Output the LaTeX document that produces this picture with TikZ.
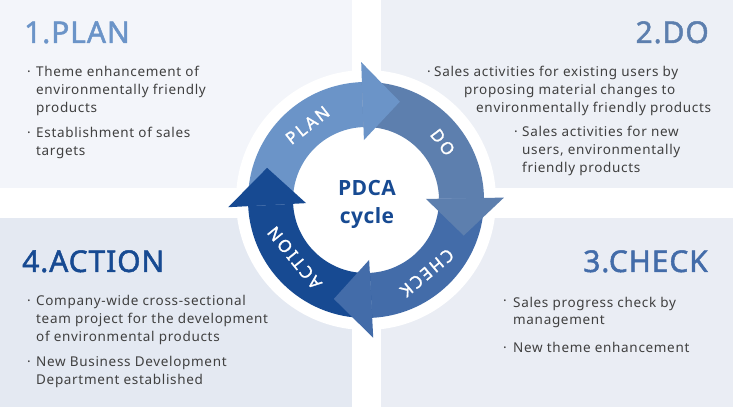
\documentclass[tikz,border=0pt]{standalone}
\usepackage{fontspec}
\setmainfont{Noto Sans}
\newfontfamily\bodyfont[LetterSpace=5]{Noto Sans}
\newfontfamily\titlefont[LetterSpace=3,FakeBold=1.6]{Noto Sans}
\newfontfamily\ringfont[LetterSpace=14,FakeBold=1.4]{Noto Sans}
\newfontfamily\centerfont[LetterSpace=2]{Open Sans}
\usepackage{xcolor}
\usetikzlibrary{calc}
\definecolor{plancolor}{HTML}{6B94C8}
\definecolor{docolor}{HTML}{5D7FAE}
\definecolor{checkcolor}{HTML}{436CA9}
\definecolor{actcolor}{HTML}{174A92}
\definecolor{paneltl}{HTML}{F3F5FA}
\definecolor{paneltr}{HTML}{EDF0F6}
\definecolor{panelbl}{HTML}{E4E9F2}
\definecolor{panelbr}{HTML}{EAEDF4}
\definecolor{bodytext}{HTML}{404040}
% ring piece and head, drawn round (0,0) of the shifted scope
\newcommand{\ringseg}[3]{\fill[#1] (#2:118) arc[start angle=#2,end angle=#3,radius=118]
  -- (#3:73) arc[start angle=#3,end angle=#2,radius=73] -- cycle;}
\newcommand{\ringhead}[2]{\fill[#1] (#2:60) -- (#2:138) -- ({#2-21}:104) -- cycle;}

\begin{document}
\begin{tikzpicture}[x=1pt,y=1pt,
  title/.style={font=\titlefont\fontsize{30}{32}\selectfont,inner sep=0pt},
  item/.style={font=\bodyfont\fontsize{13.5}{18}\selectfont,text=bodytext,
               align=left,inner sep=0pt,anchor=base west},
  bul/.style={item},
  ringlabel/.style={text=white,font=\ringfont\fontsize{17}{17}\selectfont,inner sep=0pt},
  centerlabel/.style={text=actcolor,font=\centerfont\bfseries\fontsize{21}{28}\selectfont,
                      align=center,inner sep=0pt}
]
\fill[white] (0,0) rectangle (733,407);
\useasboundingbox (0,0) rectangle (733,407);

% Four panels
\fill[paneltl] (0,219) rectangle (352,407);
\fill[paneltr] (381,219) rectangle (733,407);
\fill[panelbl] (0,0) rectangle (352,189);
\fill[panelbr] (381,0) rectangle (733,189);

% Cycle
\coordinate (c) at (366,207);
\fill[white] (c) circle[radius=130];
\begin{scope}[shift={(c)}]
  \ringseg{plancolor}{183}{92}
  \ringseg{docolor}{92}{1}
  \ringseg{checkcolor}{1}{-87}
  \ringseg{actcolor}{-87}{-177}
  \ringhead{plancolor}{92}
  \ringhead{docolor}{1}
  \ringhead{checkcolor}{-87}
  \ringhead{actcolor}{183}
  \node[ringlabel,rotate=38] (plan) at (128:95) {PLAN};
  \node[ringlabel,rotate=-53] (do) at (37:96) {DO};
  \node[ringlabel,rotate=-140] (check) at (-50:95) {CHECK};
  \node[ringlabel,rotate=129] (action) at (-141:92) {ACTION};
\end{scope}
\node[centerlabel] (pdca) at (367,203) {PDCA\\cycle};

% Titles
\node[title,text=plancolor,anchor=base west] (t1) at (24,364) {1.PLAN};
\node[title,text=docolor,anchor=base east] (t2) at (709,364) {2.DO};
\node[title,text=checkcolor,anchor=base east] (t3) at (708,135) {3.CHECK};
\node[title,text=actcolor,anchor=base west] (t4) at (22,135) {4.ACTION};

% 1.PLAN (multi-line nodes sit on their last line)
\node[bul] (b1a) at (27,330) {·};
\node[item] (p1a) at (36,294) {Theme enhancement of\\environmentally friendly\\products};
\node[bul] (b1b) at (27,269) {·};
\node[item] (p1b) at (36,251) {Establishment of sales\\targets};

% 2.DO
\node[bul] (b2a) at (427,330) {·};
\node[item] (d1) at (434,330) {Sales activities for existing users by};
\node[item] (d2) at (464,312) {proposing material changes to};
\node[item] (d3) at (476,294) {environmentally friendly products};
\node[bul] (b2b) at (514,270) {·};
\node[item] (d4) at (522,234) {Sales activities for new\\users, environmentally\\friendly products};

% 3.CHECK
\node[bul] (b3a) at (503,101) {·};
\node[item] (c1) at (513,82) {Sales progress check by\\management};
\node[bul] (b3b) at (503,55) {·};
\node[item] (c2) at (513,55) {New theme enhancement};

% 4.ACTION
\node[bul] (b4a) at (27,102) {·};
\node[item] (a1) at (36,66) {Company-wide cross-sectional\\team project for the development\\of environmental products};
\node[bul] (b4b) at (27,41) {·};
\node[item] (a2) at (36,23) {New Business Development\\Department established};
\end{tikzpicture}
\end{document}
